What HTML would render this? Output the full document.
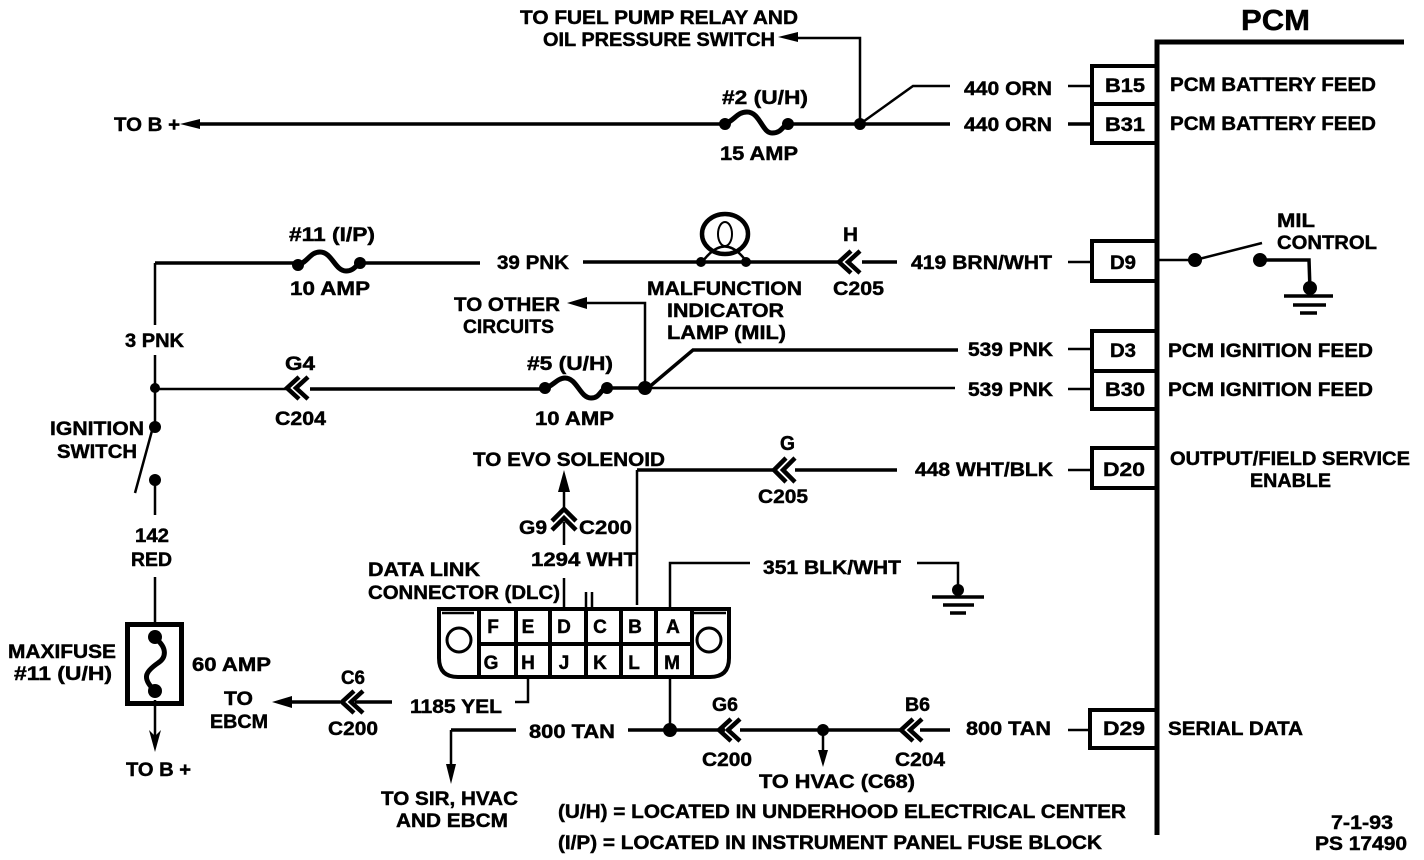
<!DOCTYPE html>
<html><head><meta charset="utf-8"><style>
html,body{margin:0;padding:0;background:#fff}
svg{display:block}
text{font-family:"Liberation Sans",sans-serif;font-weight:bold;font-size:19px;fill:#000;stroke:#000;stroke-width:.45}
.w{fill:none;stroke:#000;stroke-width:3.5}
.t{fill:none;stroke:#000;stroke-width:2.5}
.c{fill:none;stroke:#000;stroke-width:4.5}
.f{fill:none;stroke:#000;stroke-width:5}
.b{fill:none;stroke:#000;stroke-width:4}
</style></head><body>
<svg width="1424" height="860" viewBox="0 0 1424 860" xmlns="http://www.w3.org/2000/svg">
<!-- PCM -->
<path d="M1157 835V42H1404" fill="none" stroke="#000" stroke-width="5"/>
<path class="b" d="M1156 66H1092V104H1156M1092 104V143H1156"/>
<path class="b" d="M1156 241H1092V281H1156"/>
<path class="b" d="M1156 331H1092V371H1156M1092 371V409H1156"/>
<path class="b" d="M1156 448H1092V488H1156"/>
<path class="b" d="M1156 710H1090V748H1156"/>
<!-- Top -->
<path class="w" d="M195 124H725M788 124H950M1068 124H1092"/>
<path class="t" d="M1068 86H1092"/>
<path class="t" d="M860 124V38H795"/>
<path class="t" d="M860 124L913 86H950"/>
<path d="M180 124L200 119V129Z"/><path d="M778 37L798 32V42Z"/>
<path class="f" d="M725 124C735 120 737 112 747 112C760 112 762 133 772 133C782 133 782 126 788 124"/>
<circle cx="725" cy="124" r="6"/><circle cx="788" cy="124" r="6"/><circle cx="860" cy="124" r="6"/>
<!-- Row 2 -->
<path class="w" d="M155 263H298M360 263H480M583 262H840M862 262H897"/>
<path class="t" d="M155 325V263M1068 262H1092M1156 260H1195"/>
<path class="f" d="M298 265C308 262 310 252 320 252C332 252 335 271 346 271C354 271 356 265 360 263"/>
<circle cx="298" cy="265" r="6"/><circle cx="360" cy="263" r="6"/>
<ellipse cx="725" cy="234" rx="23" ry="20" fill="none" stroke="#000" stroke-width="4.5"/>
<ellipse cx="725" cy="234" rx="7" ry="12" fill="none" stroke="#000" stroke-width="2"/>
<path class="t" d="M703 261Q725 232 746 261"/>
<circle cx="701" cy="262" r="5"/><circle cx="746" cy="262" r="5"/>
<path class="c" d="M851 251L839 262L851 273M860 251L848 262L860 273"/>
<circle cx="1195" cy="260" r="7"/><circle cx="1260" cy="260" r="7"/>
<path class="t" d="M1195 260L1262 243"/>
<path class="w" d="M1260 260H1309L1310 290"/>
<circle cx="1310" cy="288" r="7"/>
<path class="w" d="M1284 296H1333M1293 305H1326M1300 313H1317"/>
<!-- Row 3 -->
<path class="t" d="M155 355V427"/>
<path class="w" d="M310 389H540M606 388H645"/>
<path class="t" d="M155 389H288M645 388H955M1068 349H1092M1068 389H1092"/>
<path class="w" d="M648 388L693 350H958"/>
<path class="c" d="M299 377L287 388L299 399M308 377L296 388L308 399"/>
<path class="f" d="M545 388C552 387 557 378 565 378C577 378 580 398 591 398C600 398 600 390 606 388"/>
<circle cx="545" cy="388" r="6"/><circle cx="607" cy="388" r="6"/><circle cx="645" cy="388" r="7"/>
<path class="t" d="M645 388V303H582"/>
<path d="M567 303L587 297V309Z"/>
<circle cx="155" cy="388" r="5"/><circle cx="155" cy="427" r="6"/><circle cx="155" cy="480" r="6"/>
<path class="t" d="M153 427L135 493M155 480V515M155 577V625M155 700V745"/>
<!-- Maxifuse -->
<rect x="127.5" y="624.5" width="54" height="79" fill="none" stroke="#000" stroke-width="5"/>
<path class="f" d="M155 638C168 648 166 658 158 663C145 672 142 678 154 690"/>
<circle cx="155" cy="637" r="7"/><circle cx="155" cy="691" r="7"/>
<path d="M155 752L149 730L155 736L161 730Z"/>
<!-- 448 -->
<path class="t" d="M637 605V470"/>
<path class="w" d="M637 470H775M795 470H897"/>
<path class="t" d="M1068 470H1092"/>
<path class="c" d="M786 458L774 470L786 482M795 458L783 470L795 482"/>
<!-- 1294 -->
<path class="t" d="M564 490V510M564 522V545M564 578V607"/>
<path d="M564 470L558 492H570Z"/>
<path class="c" d="M552 521L564 509L576 521M552 530L564 518L576 530"/>
<path class="t" d="M586 592V607M592 592V607"/>
<!-- 351 -->
<path class="t" d="M670 607V563H750M917 563H958V590"/>
<path class="w" d="M932 597H984M943 605H974M950 613H966"/>
<circle cx="958" cy="590" r="6"/>
<!-- DLC -->
<path d="M439 609H729V658Q729 677 710 677H458Q439 677 439 658Z" fill="none" stroke="#000" stroke-width="4"/>
<path class="t" d="M442 613H474M694 613H726"/>
<path d="M479 609V677M516 609V677M550 609V677M586 609V677M621 609V677M656 609V677M692 609V677M479 644H692" fill="none" stroke="#000" stroke-width="4"/>
<circle cx="459" cy="640" r="12" fill="none" stroke="#000" stroke-width="3"/>
<circle cx="709" cy="640" r="12" fill="none" stroke="#000" stroke-width="3"/>
<g text-anchor="middle">
<text x="493" y="633">F</text><text x="528" y="633">E</text><text x="564" y="633">D</text><text x="600" y="633">C</text><text x="635" y="633">B</text><text x="673" y="633">A</text>
<text x="491" y="669">G</text><text x="528" y="669">H</text><text x="564" y="669">J</text><text x="600" y="669">K</text><text x="634" y="669">L</text><text x="672" y="669">M</text>
</g>
<!-- below DLC -->
<path class="t" d="M528 679V702H515M670 679V730"/>
<path class="w" d="M392 702H355M340 702H290M451 730H516M628 730H725M740 730H902M920 730H950"/>
<path class="t" d="M1068 730H1090"/>
<path d="M272 702L292 696V708Z"/>
<path class="c" d="M354 691L342 702L354 713M363 691L351 702L363 713"/>
<path class="c" d="M731 719L719 730L731 741M740 719L728 730L740 741"/>
<path class="c" d="M913 719L901 730L913 741M922 719L910 730L922 741"/>
<circle cx="670" cy="730" r="7"/><circle cx="823" cy="730" r="6"/>
<path class="t" d="M451 730V770M823 730V755"/>
<path d="M451 784L446 764H456Z"/><path d="M823 767L818 750H828Z"/>
<!-- Text -->
<text x="1241" y="30" textLength="69" lengthAdjust="spacingAndGlyphs" style="font-size:29px">PCM</text>
<text x="520" y="24" textLength="278" lengthAdjust="spacingAndGlyphs">TO FUEL PUMP RELAY AND</text>
<text x="543" y="46" textLength="232" lengthAdjust="spacingAndGlyphs">OIL PRESSURE SWITCH</text>
<text x="114" y="131" textLength="66" lengthAdjust="spacingAndGlyphs">TO B +</text>
<text x="722" y="104" textLength="86" lengthAdjust="spacingAndGlyphs">#2 (U/H)</text>
<text x="720" y="160" textLength="78" lengthAdjust="spacingAndGlyphs">15 AMP</text>
<text x="964" y="95" textLength="88" lengthAdjust="spacingAndGlyphs">440 ORN</text>
<text x="964" y="131" textLength="88" lengthAdjust="spacingAndGlyphs">440 ORN</text>
<text x="1105" y="92" textLength="40" lengthAdjust="spacingAndGlyphs">B15</text>
<text x="1105" y="131" textLength="40" lengthAdjust="spacingAndGlyphs">B31</text>
<text x="1170" y="91" textLength="206" lengthAdjust="spacingAndGlyphs">PCM BATTERY FEED</text>
<text x="1170" y="130" textLength="206" lengthAdjust="spacingAndGlyphs">PCM BATTERY FEED</text>
<text x="289" y="241" textLength="86" lengthAdjust="spacingAndGlyphs">#11 (I/P)</text>
<text x="290" y="295" textLength="80" lengthAdjust="spacingAndGlyphs">10 AMP</text>
<text x="497" y="269" textLength="72" lengthAdjust="spacingAndGlyphs">39 PNK</text>
<text x="843" y="241" textLength="15" lengthAdjust="spacingAndGlyphs">H</text>
<text x="833" y="295" textLength="51" lengthAdjust="spacingAndGlyphs">C205</text>
<text x="911" y="269" textLength="141" lengthAdjust="spacingAndGlyphs">419 BRN/WHT</text>
<text x="1110" y="269" textLength="26" lengthAdjust="spacingAndGlyphs">D9</text>
<text x="1277" y="227" textLength="38" lengthAdjust="spacingAndGlyphs">MIL</text>
<text x="1277" y="249" textLength="100" lengthAdjust="spacingAndGlyphs">CONTROL</text>
<text x="647" y="295" textLength="155" lengthAdjust="spacingAndGlyphs">MALFUNCTION</text>
<text x="667" y="317" textLength="117" lengthAdjust="spacingAndGlyphs">INDICATOR</text>
<text x="667" y="339" textLength="119" lengthAdjust="spacingAndGlyphs">LAMP (MIL)</text>
<text x="454" y="311" textLength="106" lengthAdjust="spacingAndGlyphs">TO OTHER</text>
<text x="463" y="333" textLength="91" lengthAdjust="spacingAndGlyphs">CIRCUITS</text>
<text x="125" y="347" textLength="59" lengthAdjust="spacingAndGlyphs">3 PNK</text>
<text x="285" y="370" textLength="30" lengthAdjust="spacingAndGlyphs">G4</text>
<text x="275" y="425" textLength="51" lengthAdjust="spacingAndGlyphs">C204</text>
<text x="527" y="370" textLength="86" lengthAdjust="spacingAndGlyphs">#5 (U/H)</text>
<text x="535" y="425" textLength="79" lengthAdjust="spacingAndGlyphs">10 AMP</text>
<text x="968" y="356" textLength="85" lengthAdjust="spacingAndGlyphs">539 PNK</text>
<text x="968" y="396" textLength="85" lengthAdjust="spacingAndGlyphs">539 PNK</text>
<text x="1110" y="357" textLength="26" lengthAdjust="spacingAndGlyphs">D3</text>
<text x="1105" y="396" textLength="40" lengthAdjust="spacingAndGlyphs">B30</text>
<text x="1168" y="357" textLength="205" lengthAdjust="spacingAndGlyphs">PCM IGNITION FEED</text>
<text x="1168" y="396" textLength="205" lengthAdjust="spacingAndGlyphs">PCM IGNITION FEED</text>
<text x="50" y="435" textLength="94" lengthAdjust="spacingAndGlyphs">IGNITION</text>
<text x="57" y="458" textLength="80" lengthAdjust="spacingAndGlyphs">SWITCH</text>
<text x="473" y="466" textLength="192" lengthAdjust="spacingAndGlyphs">TO EVO SOLENOID</text>
<text x="780" y="450" textLength="15" lengthAdjust="spacingAndGlyphs" style="font-size:20px">G</text>
<text x="758" y="503" textLength="50" lengthAdjust="spacingAndGlyphs">C205</text>
<text x="915" y="476" textLength="138" lengthAdjust="spacingAndGlyphs">448 WHT/BLK</text>
<text x="1103" y="476" textLength="42" lengthAdjust="spacingAndGlyphs">D20</text>
<text x="1170" y="465" textLength="240" lengthAdjust="spacingAndGlyphs">OUTPUT/FIELD SERVICE</text>
<text x="1250" y="487" textLength="81" lengthAdjust="spacingAndGlyphs">ENABLE</text>
<text x="519" y="534" textLength="28" lengthAdjust="spacingAndGlyphs">G9</text>
<text x="579" y="534" textLength="53" lengthAdjust="spacingAndGlyphs">C200</text>
<text x="531" y="566" textLength="106" lengthAdjust="spacingAndGlyphs">1294 WHT</text>
<text x="135" y="542" textLength="34" lengthAdjust="spacingAndGlyphs">142</text>
<text x="131" y="566" textLength="41" lengthAdjust="spacingAndGlyphs">RED</text>
<text x="368" y="576" textLength="112" lengthAdjust="spacingAndGlyphs">DATA LINK</text>
<text x="368" y="599" textLength="192" lengthAdjust="spacingAndGlyphs">CONNECTOR (DLC)</text>
<text x="763" y="574" textLength="138" lengthAdjust="spacingAndGlyphs">351 BLK/WHT</text>
<text x="8" y="658" textLength="108" lengthAdjust="spacingAndGlyphs">MAXIFUSE</text>
<text x="14" y="680" textLength="98" lengthAdjust="spacingAndGlyphs">#11 (U/H)</text>
<text x="192" y="671" textLength="79" lengthAdjust="spacingAndGlyphs">60 AMP</text>
<text x="224" y="705" textLength="29" lengthAdjust="spacingAndGlyphs">TO</text>
<text x="210" y="728" textLength="58" lengthAdjust="spacingAndGlyphs">EBCM</text>
<text x="341" y="684" textLength="24" lengthAdjust="spacingAndGlyphs">C6</text>
<text x="328" y="735" textLength="50" lengthAdjust="spacingAndGlyphs">C200</text>
<text x="410" y="713" textLength="92" lengthAdjust="spacingAndGlyphs">1185 YEL</text>
<text x="529" y="738" textLength="86" lengthAdjust="spacingAndGlyphs">800 TAN</text>
<text x="712" y="711" textLength="26" lengthAdjust="spacingAndGlyphs">G6</text>
<text x="702" y="766" textLength="50" lengthAdjust="spacingAndGlyphs">C200</text>
<text x="905" y="711" textLength="25" lengthAdjust="spacingAndGlyphs">B6</text>
<text x="895" y="766" textLength="50" lengthAdjust="spacingAndGlyphs">C204</text>
<text x="966" y="735" textLength="85" lengthAdjust="spacingAndGlyphs">800 TAN</text>
<text x="1103" y="735" textLength="42" lengthAdjust="spacingAndGlyphs">D29</text>
<text x="1168" y="735" textLength="135" lengthAdjust="spacingAndGlyphs">SERIAL DATA</text>
<text x="759" y="788" textLength="156" lengthAdjust="spacingAndGlyphs">TO HVAC (C68)</text>
<text x="126" y="776" textLength="65" lengthAdjust="spacingAndGlyphs">TO B +</text>
<text x="381" y="805" textLength="137" lengthAdjust="spacingAndGlyphs">TO SIR, HVAC</text>
<text x="396" y="827" textLength="112" lengthAdjust="spacingAndGlyphs">AND EBCM</text>
<text x="558" y="818" textLength="568" lengthAdjust="spacingAndGlyphs">(U/H) = LOCATED IN UNDERHOOD ELECTRICAL CENTER</text>
<text x="558" y="849" textLength="544" lengthAdjust="spacingAndGlyphs">(I/P) = LOCATED IN INSTRUMENT PANEL FUSE BLOCK</text>
<text x="1331" y="829" textLength="62" lengthAdjust="spacingAndGlyphs">7-1-93</text>
<text x="1315" y="850" textLength="92" lengthAdjust="spacingAndGlyphs">PS 17490</text>
</svg>
</body></html>
